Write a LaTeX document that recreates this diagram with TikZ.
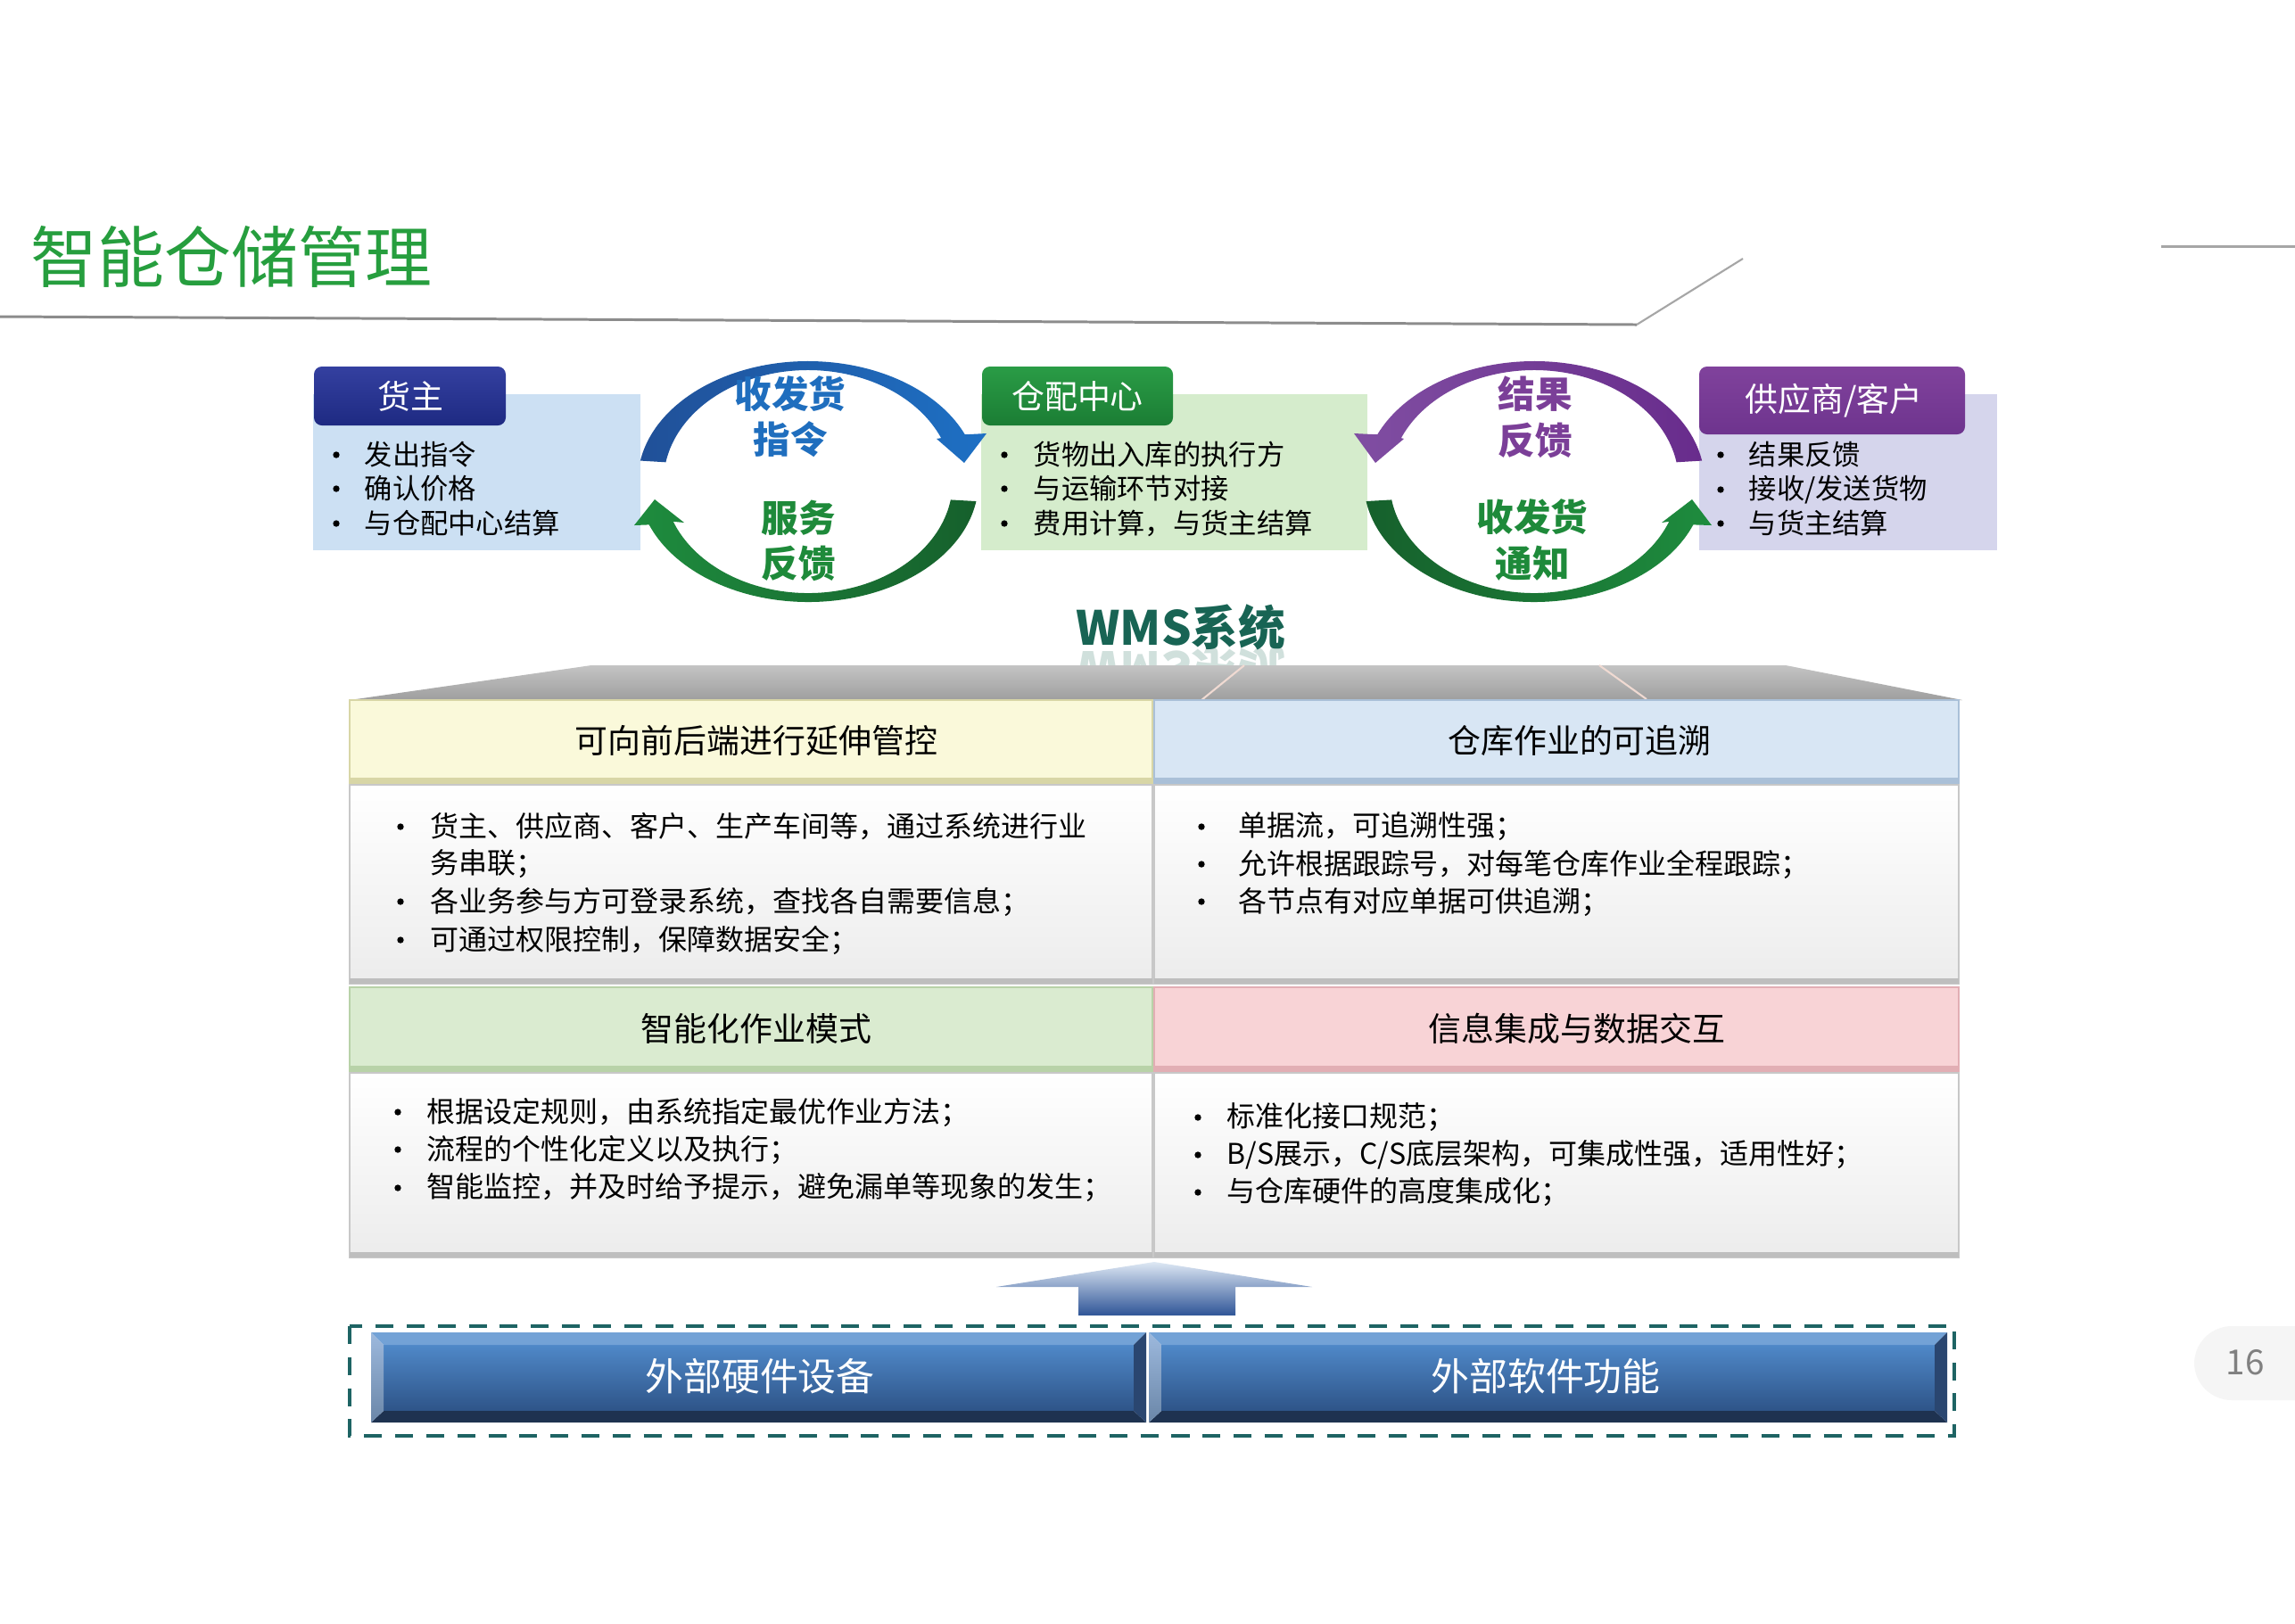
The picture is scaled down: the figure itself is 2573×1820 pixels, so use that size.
\documentclass[tikz,border=0pt]{standalone}
\usepackage{fontspec}
\setmainfont{Noto Sans CJK SC}
\definecolor{tgreen}{RGB}{38,158,62}
\definecolor{lineg}{RGB}{140,140,140}
\definecolor{lineg2}{RGB}{166,166,166}
\definecolor{hzblue1}{RGB}{52,64,160}
\definecolor{hzblue2}{RGB}{30,42,130}
\definecolor{bodyblue}{RGB}{204,224,243}
\definecolor{hgreen1}{RGB}{42,156,70}
\definecolor{hgreen2}{RGB}{27,125,52}
\definecolor{bodygreen}{RGB}{213,236,204}
\definecolor{hpurp1}{RGB}{128,66,156}
\definecolor{hpurp2}{RGB}{110,52,142}
\definecolor{bodypurp}{RGB}{213,213,236}
\definecolor{ablue1}{RGB}{32,80,152}
\definecolor{ablue2}{RGB}{30,112,196}
\definecolor{agreen1}{RGB}{30,140,62}
\definecolor{agreen2}{RGB}{22,96,44}
\definecolor{apurp1}{RGB}{128,78,162}
\definecolor{apurp2}{RGB}{104,44,140}
\definecolor{tblue}{RGB}{31,110,190}
\definecolor{tgreen2}{RGB}{30,138,58}
\definecolor{tpurp}{RGB}{123,63,152}
\definecolor{wmsc}{RGB}{24,100,84}
\definecolor{hyel}{RGB}{250,249,218}
\definecolor{hyel2}{RGB}{216,214,166}
\definecolor{hlblue}{RGB}{216,230,244}
\definecolor{hlblue2}{RGB}{170,192,216}
\definecolor{hlgreen}{RGB}{218,235,208}
\definecolor{hlgreen2}{RGB}{184,210,168}
\definecolor{hpink}{RGB}{248,211,214}
\definecolor{hpink2}{RGB}{226,174,180}
\definecolor{cellb}{RGB}{200,200,200}
\definecolor{cellband}{RGB}{190,190,190}
\definecolor{celll}{RGB}{236,236,236}
\definecolor{upa1}{RGB}{222,232,244}
\definecolor{upa2}{RGB}{47,85,151}
\definecolor{dteal}{RGB}{30,100,100}
\definecolor{bv1}{RGB}{115,162,214}
\definecolor{bvf1}{RGB}{79,136,200}
\definecolor{bvf2}{RGB}{46,84,136}
\definecolor{bv3}{RGB}{30,50,80}
\definecolor{bvl1}{RGB}{157,185,221}
\definecolor{bvl2}{RGB}{106,134,168}
\definecolor{bvr}{RGB}{42,70,112}
\definecolor{pill}{RGB}{245,245,245}
\definecolor{pgnum}{RGB}{128,128,128}
\definecolor{roof1}{RGB}{196,196,196}
\definecolor{roof2}{RGB}{158,158,158}
\definecolor{roofline}{RGB}{240,218,210}
\newcommand\bitem[5]{%
  \node[bulsty] (#1b) at (#2,#4) {};
  \node[itemsty] (#1) at (#3,#4) {#5};}
\newcommand\bevelbox[4]{%
  \shade[top color=bvf1,bottom color=bvf2] ({#1+14},{#2+14}) rectangle ({#3-14},{#4-13});
  \fill[bv1] (#1,#2) -- (#3,#2) -- ({#3-14},{#2+14}) -- ({#1+14},{#2+14}) -- cycle;
  \fill[bv3] (#1,#4) -- (#3,#4) -- ({#3-14},{#4-13}) -- ({#1+14},{#4-13}) -- cycle;
  \shade[top color=bvl1,bottom color=bvl2] (#1,#2) -- ({#1+14},{#2+14}) -- ({#1+14},{#4-13}) -- (#1,#4) -- cycle;
  \fill[bvr] (#3,#2) -- ({#3-14},{#2+14}) -- ({#3-14},{#4-13}) -- (#3,#4) -- cycle;}
\newcommand\gridcell[4]{%
  \shade[top color=white,bottom color=celll] (#1,#2) rectangle (#3,#4);
  \draw[cellb,line width=0.5pt] (#1,#2) rectangle (#3,#4);
  \fill[cellband] (#1,{#4-6}) rectangle (#3,#4);}
\newcommand\headcell[6]{%
  \fill[#5] (#1,#2) rectangle (#3,#4);
  \fill[#6] (#1,{#4-8}) rectangle (#3,#4);
  \draw[#6,line width=0.5pt] (#1,#2) rectangle (#3,#4);}
\begin{document}
\begin{tikzpicture}[x=0.01cm,y=-0.01cm,
  hdrtxt/.style={inner sep=0pt,text=white,font=\fontsize{10.5}{12}\selectfont},
  ringtxt/.style={inner sep=0pt,font=\fontsize{11.8}{13}\selectfont\bfseries},
  celltxt/.style={inner sep=0pt,font=\fontsize{10.5}{12}\selectfont},
  itemsty/.style={inner sep=0pt,anchor=west,font=\fontsize{8.9}{10}\selectfont},
  gitem/.style={itemsty,font=\fontsize{9.1}{10}\selectfont},
  bulsty/.style={circle,fill=black,inner sep=0pt,minimum size=2.1pt},
  btntxt/.style={inner sep=0pt,text=white,font=\fontsize{12.2}{14}\selectfont},
  wmssty/.style={inner sep=0pt,text=wmsc,font=\fontsize{15}{17}\selectfont\bfseries},
]
\useasboundingbox (0,0) rectangle (2573,1820);
\fill[white] (0,0) rectangle (2573,1820);

% title
\node[anchor=west,inner sep=0pt,text=tgreen,font=\fontsize{21.3}{24}\selectfont] (title) at (34,288) {智能仓储管理};
\draw[lineg,line width=0.85pt] (0,355) -- (1835,364);
\draw[lineg2,line width=0.6pt] (1835,364) -- (1954,290);
\draw[lineg2,line width=0.85pt] (2423,276) -- (2573,276);

% top boxes
\fill[bodyblue] (351,442) rectangle (718,617);
\shade[top color=hzblue1,bottom color=hzblue2,rounded corners=2.5pt] (352,411) rectangle (567,477);
\node[hdrtxt] (hz) at (460,444) {货主};
\bitem{hz1}{377}{408}{510}{发出指令}
\bitem{hz2}{377}{408}{548}{确认价格}
\bitem{hz3}{377}{408}{587}{与仓配中心结算}

\fill[bodygreen] (1100,442) rectangle (1533,617);
\shade[top color=hgreen1,bottom color=hgreen2,rounded corners=2.5pt] (1101,411) rectangle (1315,477);
\node[hdrtxt] (cp) at (1208,444) {仓配中心};
\bitem{cp1}{1126}{1158}{510}{货物出入库的执行方}
\bitem{cp2}{1126}{1158}{548}{与运输环节对接}
\bitem{cp3}{1126}{1158}{587}{费用计算，与货主结算}

\fill[bodypurp] (1905,442) rectangle (2239,617);
\shade[top color=hpurp1,bottom color=hpurp2,rounded corners=2.5pt] (1905,411) rectangle (2203,487);
\node[hdrtxt] (gy) at (2056,449) {供应商/客户};
\bitem{gy1}{1929}{1960}{510}{结果反馈}
\bitem{gy2}{1929}{1960}{549}{接收/发送货物}
\bitem{gy3}{1929}{1960}{587}{与货主结算}

% left ring
\shade[left color=ablue1,right color=ablue2]
  ([shift={(906,540)}]190:191 and 135) arc[start angle=190,end angle=337,x radius=191,y radius=135]
  -- (1106,486) -- (1081,519) -- (1050,492)
  -- ([shift={(906,540)}]337:162 and 125) arc[start angle=337,end angle=190,x radius=162,y radius=125] -- cycle;
\shade[left color=agreen1,right color=agreen2]
  ([shift={(906,540)}]9.4:191 and 135) arc[start angle=9.4,end angle=159,x radius=191,y radius=135]
  -- (711,589) -- (734,560) -- (767,586)
  -- ([shift={(906,540)}]159:162 and 125) arc[start angle=159,end angle=9.4,x radius=162,y radius=125] -- cycle;
% right ring
\shade[left color=apurp1,right color=apurp2]
  ([shift={(1720,540)}]350:191 and 135) arc[start angle=350,end angle=203,x radius=191,y radius=135]
  -- (1518,486) -- (1542,519) -- (1574,492)
  -- ([shift={(1720,540)}]203:162 and 125) arc[start angle=203,end angle=350,x radius=162,y radius=125] -- cycle;
\shade[left color=agreen2,right color=agreen1]
  ([shift={(1720,540)}]170.6:191 and 135) arc[start angle=170.6,end angle=21,x radius=191,y radius=135]
  -- (1919,589) -- (1897,560) -- (1863,586)
  -- ([shift={(1720,540)}]21:162 and 125) arc[start angle=21,end angle=170.6,x radius=162,y radius=125] -- cycle;

\node[ringtxt,text=tblue] (r1a) at (886,442) {收发货};
\node[ringtxt,text=tblue] (r1b) at (886,493) {指令};
\node[ringtxt,text=tgreen2] (r2a) at (895,581) {服务};
\node[ringtxt,text=tgreen2] (r2b) at (895,632) {反馈};
\node[ringtxt,text=tpurp] (r3a) at (1721,442) {结果};
\node[ringtxt,text=tpurp] (r3b) at (1721,494) {反馈};
\node[ringtxt,text=tgreen2] (r4a) at (1718,580) {收发货};
\node[ringtxt,text=tgreen2] (r4b) at (1718,632) {通知};

% WMS title with reflection
\node[wmssty] (wms) at (1324,703) {WMS系统};
\begin{scope}
  \clip (1150,727) rectangle (1500,752);
  \begin{scope}[shift={(1324,751)},yscale=-1]
    \node[wmssty,transform shape,text opacity=0.2] (wmsr) at (0,0) {WMS系统};
  \end{scope}
\end{scope}

% roof
\shade[top color=roof1,bottom color=roof2] (663,746) -- (2002,746) -- (2200,785) -- (392,785) -- cycle;
\draw[roofline,line width=0.6pt] (1395,746) -- (1347,785);
\draw[roofline,line width=0.6pt] (1793,746) -- (1846,784);

% grid
\headcell{392}{785}{1292}{880}{hyel}{hyel2}
\headcell{1294}{785}{2196}{880}{hlblue}{hlblue2}
\gridcell{392}{880}{1292}{1103}
\gridcell{1294}{880}{2196}{1103}
\headcell{392}{1107}{1292}{1203}{hlgreen}{hlgreen2}
\headcell{1294}{1107}{2196}{1203}{hpink}{hpink2}
\gridcell{392}{1203}{1292}{1410}
\gridcell{1294}{1203}{2196}{1410}

\node[celltxt] (h1) at (848,830) {可向前后端进行延伸管控};
\node[celltxt] (h2) at (1771,830) {仓库作业的可追溯};
\node[celltxt] (h3) at (848,1153) {智能化作业模式};
\node[celltxt] (h4) at (1768,1153) {信息集成与数据交互};

\tikzset{itemsty/.style={inner sep=0pt,anchor=west,font=\fontsize{9.1}{10}\selectfont}}
\bitem{a1}{449}{482}{927}{货主、供应商、客户、生产车间等，通过系统进行业}
\node[itemsty] (a1w) at (482,969) {务串联；};
\bitem{a2}{449}{482}{1011}{各业务参与方可登录系统，查找各自需要信息；}
\bitem{a3}{449}{482}{1054}{可通过权限控制，保障数据安全；}

\bitem{b1}{1347}{1388}{927}{单据流，可追溯性强；}
\bitem{b2}{1347}{1388}{969}{允许根据跟踪号，对每笔仓库作业全程跟踪；}
\bitem{b3}{1347}{1388}{1011}{各节点有对应单据可供追溯；}

\bitem{c1}{446}{478}{1247}{根据设定规则，由系统指定最优作业方法；}
\bitem{c2}{446}{478}{1289}{流程的个性化定义以及执行；}
\bitem{c3}{446}{478}{1332}{智能监控，并及时给予提示，避免漏单等现象的发生；}

\bitem{d1}{1343}{1375}{1253}{标准化接口规范；}
\bitem{d2}{1343}{1375}{1295}{B/S展示，C/S底层架构，可集成性强，适用性好；}
\bitem{d3}{1343}{1375}{1337}{与仓库硬件的高度集成化；}

% up arrow
\shade[top color=upa1,bottom color=upa2] (1294,1415) -- (1471,1443) -- (1385,1443) -- (1385,1475) -- (1209,1475) -- (1209,1443) -- (1117,1443) -- cycle;

% dashed frame and buttons
\draw[dteal,line width=1.4pt,dash pattern=on 5.7pt off 4.2pt] (392,1487) rectangle (2191,1610);
\bevelbox{416}{1494}{1285}{1595}
\bevelbox{1288}{1494}{2183}{1595}
\node[btntxt] (ext1) at (852,1543) {外部硬件设备};
\node[btntxt] (ext2) at (1733,1543) {外部软件功能};

% page number
\fill[pill,rounded corners=12pt] (2460,1487) rectangle (2640,1570);
\node[inner sep=0pt,text=pgnum,font=\fontsize{11}{12}\selectfont] (pg) at (2517,1528) {16};
\end{tikzpicture}
\end{document}
